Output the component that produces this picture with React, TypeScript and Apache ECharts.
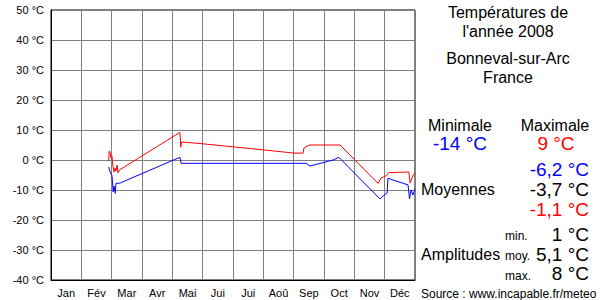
import React, { useEffect, useRef } from "react";
import * as echarts from "echarts";

const months = ["Jan", "Fév", "Mar", "Avr", "Mai", "Jui", "Jui", "Aoû", "Sep", "Oct", "Nov", "Déc"];
const yTicks = { min: -40, max: 50, step: 10 };

// [month position (0..12), °C]
const maxTemps: [number, number][] = [
  [1.9, -0.3], [1.92, 3.0], [1.955, 2.3], [1.98, 0.7], [2.01, 1.3], [2.04, -2],
  [2.08, -4], [2.11, -2.7], [2.14, -3.7], [2.18, -1.7], [2.21, -4.3], [2.26, -3.3],
  [4.25, 9.2], [4.28, 4.3], [4.3, 6.0], [4.91, 5.5], [5.9, 4.5], [6.89, 3.5],
  [8.01, 2.3], [8.31, 2.3], [8.34, 4], [8.51, 5], [9.53, 5], [10.78, -7.8],
  [10.88, -6], [11.04, -5.3], [11.14, -4.2], [11.8, -4], [11.84, -7.7], [11.93, -5.3], [12.0, -4.3],
];
const minTemps: [number, number][] = [
  [1.9, -2.3], [1.95, -4], [2.01, -5.2], [2.05, -10.6], [2.08, -8.7], [2.12, -11.1],
  [2.14, -7.8], [2.27, -7.7], [4.25, 0.9], [4.29, -1.1], [8.41, -1.1], [8.54, -2],
  [9.3, 0], [9.49, 0.9], [10.78, -12.3], [10.85, -13], [10.95, -12], [11.08, -11],
  [11.11, -6.1], [11.77, -8.3], [11.82, -13], [11.87, -10], [11.93, -11.7], [12.0, -9.7],
];

const titleLines = ["Températures de", "l'année 2008", "Bonneval-sur-Arc", "France"];
const extremes = { min: "-14 °C", max: "9 °C" };
const averages = ["-6,2 °C", "-3,7 °C", "-1,1 °C"];
const amplitudeLabels = ["min.", "moy.", "max."];
const amplitudes = ["1 °C", "5,1 °C", "8 °C"];
const source = "Source : www.incapable.fr/meteo";

const FONT = "'Liberation Sans', Arial, sans-serif";

export default function App() {
  const ref = useRef<HTMLDivElement>(null);
  useEffect(() => {
    if (!ref.current) return;
    const chart = echarts.init(ref.current, undefined, { renderer: "svg" });
    const txt = (x: number, y: number, text: string, size: number, fill = "#000", align = "center") => ({
      type: "text",
      x,
      y,
      style: { text, fontSize: size, fontFamily: FONT, fill, textAlign: align, textVerticalAlign: "middle" },
    });
    const avgColors = ["#0000ff", "#000000", "#ff0000"];
    chart.setOption({
      animation: false,
      textStyle: { fontFamily: FONT },
      grid: { left: 51, top: 10, width: 364, height: 270, show: true, borderColor: "#000", borderWidth: 1, containLabel: false },
      xAxis: [
        {
          type: "value",
          min: 0,
          max: 12,
          interval: 1,
          position: "bottom",
          axisLine: { show: true, onZero: false, lineStyle: { color: "#000" } },
          axisTick: { show: false },
          axisLabel: { show: false },
          splitLine: { show: true, lineStyle: { color: "#808080", width: 1 } },
        },
        {
          type: "category",
          data: months,
          position: "bottom",
          boundaryGap: true,
          axisLine: { show: false, onZero: false },
          axisTick: { show: false },
          splitLine: { show: false },
          axisLabel: { color: "#000", fontSize: 11, fontFamily: FONT, margin: 7, interval: 0 },
        },
      ],
      yAxis: {
        type: "value",
        min: yTicks.min,
        max: yTicks.max,
        interval: yTicks.step,
        axisLine: { show: true, onZero: false, lineStyle: { color: "#000" } },
        axisTick: { show: false },
        axisLabel: { color: "#000", fontSize: 11, fontFamily: FONT, margin: 7, formatter: "{value} °C" },
        splitLine: { show: true, lineStyle: { color: "#808080", width: 1 } },
      },
      series: [
        {
          type: "line",
          data: maxTemps,
          showSymbol: false,
          lineStyle: { color: "#ff0000", width: 1 },
          itemStyle: { color: "#ff0000" },
          z: 3,
        },
        {
          type: "line",
          data: minTemps,
          showSymbol: false,
          lineStyle: { color: "#0000ff", width: 1 },
          itemStyle: { color: "#0000ff" },
          z: 3,
        },
      ],
      graphic: [
        txt(508, 12, titleLines[0], 16),
        txt(508, 31, titleLines[1], 16),
        txt(508, 58, titleLines[2], 16),
        txt(508, 77, titleLines[3], 16),
        txt(460, 125, "Minimale", 16),
        txt(555, 125, "Maximale", 16),
        txt(460, 143, extremes.min, 19, "#0000ff"),
        txt(556, 143, extremes.max, 19, "#ff0000"),
        txt(589, 169, averages[0], 19, avgColors[0], "right"),
        txt(589, 189, averages[1], 19, avgColors[1], "right"),
        txt(589, 209, averages[2], 19, avgColors[2], "right"),
        txt(421, 189, "Moyennes", 16, "#000", "left"),
        txt(421, 254, "Amplitudes", 16, "#000", "left"),
        txt(505, 236, amplitudeLabels[0], 12, "#000", "left"),
        txt(505, 256, amplitudeLabels[1], 12, "#000", "left"),
        txt(505, 276, amplitudeLabels[2], 12, "#000", "left"),
        txt(589, 234, amplitudes[0], 19, "#000", "right"),
        txt(589, 254, amplitudes[1], 19, "#000", "right"),
        txt(589, 273, amplitudes[2], 19, "#000", "right"),
        txt(421, 294, source, 12, "#000", "left"),
      ],
    });
    return () => chart.dispose();
  }, []);
  return <div ref={ref} style={{ width: 600, height: 300, position: "absolute", left: 0, top: 0 }} />;
}
